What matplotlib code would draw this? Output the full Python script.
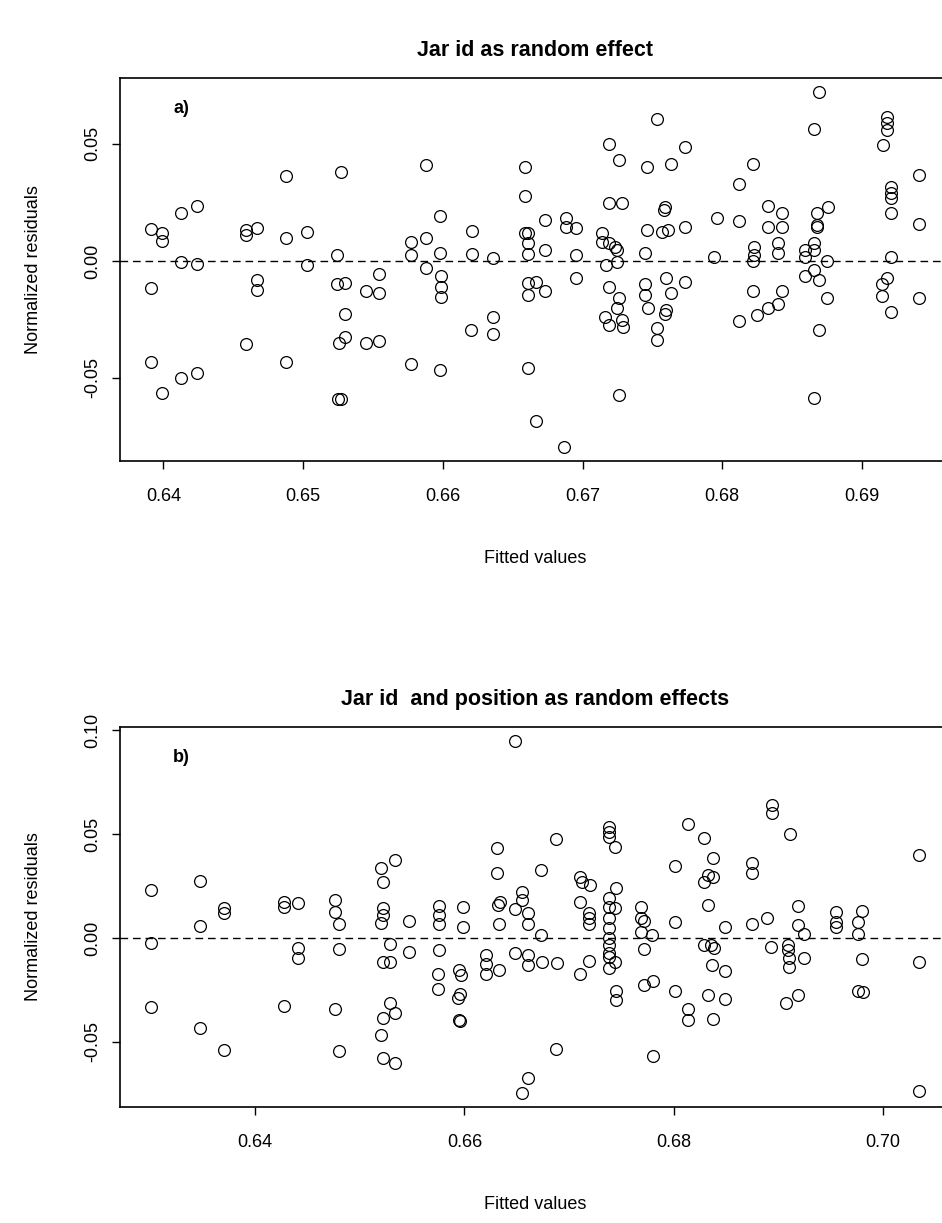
import numpy as np
import matplotlib
matplotlib.use('Agg')
import matplotlib.pyplot as plt

plt.rcParams['font.family'] = ['Liberation Sans', 'DejaVu Sans']

# panel a) jar id as random effect: fitted values and normalized residuals
fit_a = [0.6391, 0.6399, 0.6399, 0.6391, 0.6391, 0.6399,
         0.6413, 0.6424, 0.6413, 0.6424, 0.6413, 0.6424,
         0.6459, 0.6459, 0.6467, 0.6467, 0.6467, 0.6459,
         0.6488, 0.6488, 0.6488, 0.6503, 0.6503,
         0.6527, 0.6524, 0.6524, 0.6530, 0.6530, 0.6530, 0.6526, 0.6525, 0.6527,
         0.6554, 0.6545, 0.6554, 0.6545, 0.6554,
         0.6577, 0.6577, 0.6577, 0.6588, 0.6588, 0.6588,
         0.6598, 0.6598, 0.6599, 0.6599, 0.6599, 0.6598,
         0.6621, 0.6621, 0.6620, 0.6636, 0.6636, 0.6636,
         0.6659, 0.6659, 0.6659, 0.6661, 0.6661, 0.6661, 0.6673, 0.6673,
         0.6661, 0.6667, 0.6673, 0.6661, 0.6661, 0.6667, 0.6687,
         0.6688, 0.6688, 0.6695, 0.6695, 0.6695,
         0.6719, 0.6726, 0.6719, 0.6728, 0.6714, 0.6714, 0.6719, 0.6723, 0.6725,
         0.6717, 0.6725, 0.6719, 0.6726, 0.6725, 0.6716, 0.6719, 0.6728, 0.6729, 0.6726,
         0.6753, 0.6746, 0.6763, 0.6759, 0.6758, 0.6746, 0.6757, 0.6761, 0.6745,
         0.6745, 0.6745, 0.6747, 0.6760, 0.6763, 0.6760, 0.6759, 0.6753, 0.6753,
         0.6773, 0.6773, 0.6773, 0.6796, 0.6794,
         0.6812, 0.6822, 0.6812, 0.6823, 0.6823, 0.6822, 0.6822, 0.6825, 0.6812,
         0.6833, 0.6843, 0.6833, 0.6843, 0.6840, 0.6840, 0.6843, 0.6840, 0.6833,
         0.6869, 0.6866, 0.6868, 0.6876, 0.6868, 0.6868, 0.6859, 0.6859, 0.6866,
         0.6866, 0.6875, 0.6866, 0.6859, 0.6869, 0.6875, 0.6869, 0.6866,
         0.6918, 0.6918, 0.6918, 0.6915, 0.6921, 0.6921, 0.6921, 0.6921, 0.6921,
         0.6918, 0.6914, 0.6914, 0.6921,
         0.6941, 0.6941, 0.6941]
res_a = [0.0137, 0.0118, 0.0087, -0.0117, -0.0430, -0.0565,
         0.0204, 0.0235, -0.0006, -0.0014, -0.0501, -0.0480,
         0.0132, 0.0111, 0.0140, -0.0081, -0.0124, -0.0356,
         0.0363, 0.0097, -0.0433, 0.0123, -0.0017,
         0.0382, 0.0026, -0.0100, -0.0095, -0.0228, -0.0324, -0.0352, -0.0590, -0.0590,
         -0.0057, -0.0128, -0.0138, -0.0352, -0.0342,
         0.0082, 0.0026, -0.0441, 0.0410, 0.0097, -0.0031,
         0.0192, 0.0033, -0.0063, -0.0110, -0.0153, -0.0466,
         0.0128, 0.0029, -0.0295, 0.0012, -0.0238, -0.0313,
         0.0400, 0.0278, 0.0118, 0.0121, 0.0076, 0.0029, 0.0175, 0.0047,
         -0.0095, -0.0088, -0.0128, -0.0145, -0.0459, -0.0684, -0.0794,
         0.0182, 0.0147, 0.0142, 0.0026, -0.0071,
         0.0500, 0.0432, 0.0247, 0.0247, 0.0118, 0.0082, 0.0076, 0.0061, 0.0047,
         -0.0017, -0.0003, -0.0110, -0.0159, -0.0202, -0.0238, -0.0274, -0.0252, -0.0281, -0.0573,
         0.0607, 0.0400, 0.0415, 0.0232, 0.0218, 0.0132, 0.0125, 0.0132, 0.0033,
         -0.0100, -0.0145, -0.0200, -0.0074, -0.0138, -0.0209, -0.0228, -0.0285, -0.0338,
         0.0486, 0.0144, -0.0088, 0.0182, 0.0016,
         0.0328, 0.0415, 0.0172, 0.0061, 0.0026, 0.0001, -0.0128, -0.0231, -0.0256,
         0.0235, 0.0206, 0.0144, 0.0144, 0.0076, 0.0033, -0.0128, -0.0185, -0.0200,
         0.0721, 0.0563, 0.0206, 0.0232, 0.0154, 0.0144, 0.0047, 0.0018, 0.0076,
         0.0047, 0.0001, -0.0038, -0.0063, -0.0081, -0.0159, -0.0295, -0.0587,
         0.0614, 0.0589, 0.0560, 0.0496, 0.0318, 0.0292, 0.0268, 0.0204, 0.0016,
         -0.0074, -0.0100, -0.0148, -0.0219,
         0.0368, 0.0158, -0.0159]

# panel b) jar id and position as random effects
fit_b = [0.6300, 0.6300, 0.6300, 0.6347, 0.6347, 0.6347, 0.6370, 0.6370, 0.6370,
         0.6427, 0.6427, 0.6441, 0.6441, 0.6441, 0.6427,
         0.6476, 0.6476, 0.6480, 0.6480, 0.6476, 0.6480,
         0.6520, 0.6522, 0.6534, 0.6522, 0.6522, 0.6520, 0.6529, 0.6522, 0.6529,
         0.6529, 0.6522, 0.6534, 0.6520, 0.6522, 0.6534,
         0.6547, 0.6547, 0.6576, 0.6576, 0.6576, 0.6576, 0.6575, 0.6575,
         0.6599, 0.6599, 0.6595, 0.6597, 0.6596, 0.6594, 0.6595, 0.6596,
         0.6621, 0.6621, 0.6621, 0.6631, 0.6631, 0.6632, 0.6634, 0.6633, 0.6633,
         0.6648, 0.6648, 0.6648, 0.6655, 0.6655, 0.6661, 0.6661, 0.6661, 0.6661,
         0.6661, 0.6655, 0.6673, 0.6673, 0.6674, 0.6688, 0.6689, 0.6688,
         0.6711, 0.6712, 0.6720, 0.6711, 0.6719, 0.6719, 0.6719, 0.6719, 0.6711,
         0.6738, 0.6738, 0.6738, 0.6744, 0.6745, 0.6738, 0.6738, 0.6744, 0.6738,
         0.6738, 0.6738, 0.6738, 0.6738, 0.6738, 0.6744, 0.6738, 0.6745, 0.6745,
         0.6769, 0.6769, 0.6772, 0.6769, 0.6779, 0.6772, 0.6772, 0.6780, 0.6780,
         0.6801, 0.6801, 0.6801, 0.6814, 0.6814, 0.6814,
         0.6829, 0.6838, 0.6833, 0.6838, 0.6829, 0.6833, 0.6829, 0.6836, 0.6839,
         0.6837, 0.6833, 0.6838, 0.6849, 0.6849, 0.6849,
         0.6875, 0.6875, 0.6875, 0.6889, 0.6894, 0.6894, 0.6893,
         0.6911, 0.6919, 0.6919, 0.6925, 0.6909, 0.6909, 0.6910, 0.6910, 0.6925,
         0.6908, 0.6919,
         0.6955, 0.6955, 0.6955, 0.6980, 0.6976, 0.6976, 0.6980, 0.6976, 0.6981,
         0.7035, 0.7035, 0.7035]
res_b = [0.0231, -0.0025, -0.0335, 0.0274, 0.0059, -0.0434, 0.0143, 0.0119, -0.0538,
         0.0175, 0.0150, 0.0167, -0.0050, -0.0095, -0.0326,
         0.0183, 0.0126, 0.0066, -0.0053, -0.0341, -0.0547,
         0.0335, 0.0271, 0.0375, 0.0143, 0.0111, 0.0071, -0.0030, -0.0117, -0.0114,
         -0.0314, -0.0386, -0.0362, -0.0466, -0.0578, -0.0602,
         0.0082, -0.0069, 0.0155, 0.0111, 0.0066, -0.0058, -0.0175, -0.0247,
         0.0150, 0.0054, -0.0154, -0.0178, -0.0271, -0.0290, -0.0394, -0.0399,
         -0.0082, -0.0126, -0.0175, 0.0431, 0.0311, 0.0159, 0.0175, 0.0066, -0.0154,
         0.0949, 0.0139, -0.0074, 0.0223, 0.0183, 0.0119, 0.0066, -0.0082, -0.0130,
         -0.0675, -0.0747, 0.0327, 0.0014, -0.0117, 0.0476, -0.0122, -0.0534,
         0.0295, 0.0271, 0.0255, 0.0175, 0.0119, 0.0095, 0.0066, -0.0111, -0.0175,
         0.0535, 0.0511, 0.0487, 0.0439, 0.0239, 0.0191, 0.0150, 0.0146, 0.0095,
         0.0047, -0.0001, -0.0034, -0.0074, -0.0090, -0.0117, -0.0143, -0.0258, -0.0298,
         0.0150, 0.0095, 0.0082, 0.0030, 0.0014, -0.0053, -0.0226, -0.0210, -0.0571,
         0.0348, 0.0078, -0.0255, 0.0551, -0.0341, -0.0394,
         0.0482, 0.0383, 0.0303, 0.0295, 0.0271, 0.0159, -0.0034, -0.0034, -0.0050,
         -0.0130, -0.0274, -0.0389, 0.0054, -0.0159, -0.0293,
         0.0359, 0.0311, 0.0066, 0.0095, 0.0639, 0.0600, -0.0042,
         0.0503, 0.0155, 0.0063, 0.0018, -0.0034, -0.0058, -0.0095, -0.0138, -0.0095,
         -0.0314, -0.0277,
         0.0126, 0.0078, 0.0054, 0.0130, 0.0075, 0.0018, -0.0101, -0.0255, -0.0261,
         0.0399, -0.0117, -0.0739]

titles = ['Jar id as random effect', 'Jar id  and position as random effects']
tags = ['a)', 'b)']
xticks_a = [0.64, 0.65, 0.66, 0.67, 0.68, 0.69]
xticks_b = [0.64, 0.66, 0.68, 0.70]
yticks_a = [-0.05, 0.00, 0.05]
yticks_b = [-0.05, 0.00, 0.05, 0.10]

fig = plt.figure(figsize=(9.42, 12.23), dpi=100)
# plot boxes, right edge runs just past the figure (cropped like the original)
ax1 = fig.add_axes([0.1274, 0.6231, 0.8811, 0.3131])
ax2 = fig.add_axes([0.1274, 0.0949, 0.8811, 0.3107])

panels = [(ax1, fit_a, res_a, xticks_a, yticks_a),
          (ax2, fit_b, res_b, xticks_b, yticks_b)]

for i, (ax, fx, ry, xt, yt) in enumerate(panels):
    ax.plot(fx, ry, 'o', mfc='none', mec='black', ms=8.5, mew=0.9)
    ax.axhline(0, color='black', lw=1, ls=(0, (5.5, 3.5)))
    ax.margins(x=0.04, y=0.04)   # R style 4% axis padding
    ax.set_xticks(xt)
    ax.set_xticklabels(['%.2f' % v for v in xt])
    ax.set_yticks(yt)
    ax.set_yticklabels(['%.2f' % v for v in yt], rotation=90, va='center')
    ax.tick_params(direction='out', length=5.8, width=1, labelsize=13)
    ax.tick_params(axis='x', pad=14)
    ax.tick_params(axis='y', pad=8)
    for sp in ax.spines.values():
        sp.set_linewidth(1.2)
    ax.set_xlabel('Fitted values', fontsize=13, labelpad=32)
    ax.set_ylabel('Normalized residuals', fontsize=13, labelpad=30)
    ax.set_title(titles[i], fontsize=15.5, fontweight='bold', pad=16)
    ax.text(0.064, 0.92, tags[i], transform=ax.transAxes, fontsize=13,
            fontweight='bold', ha='left', va='center')

fig.savefig('out.png', dpi=100)
